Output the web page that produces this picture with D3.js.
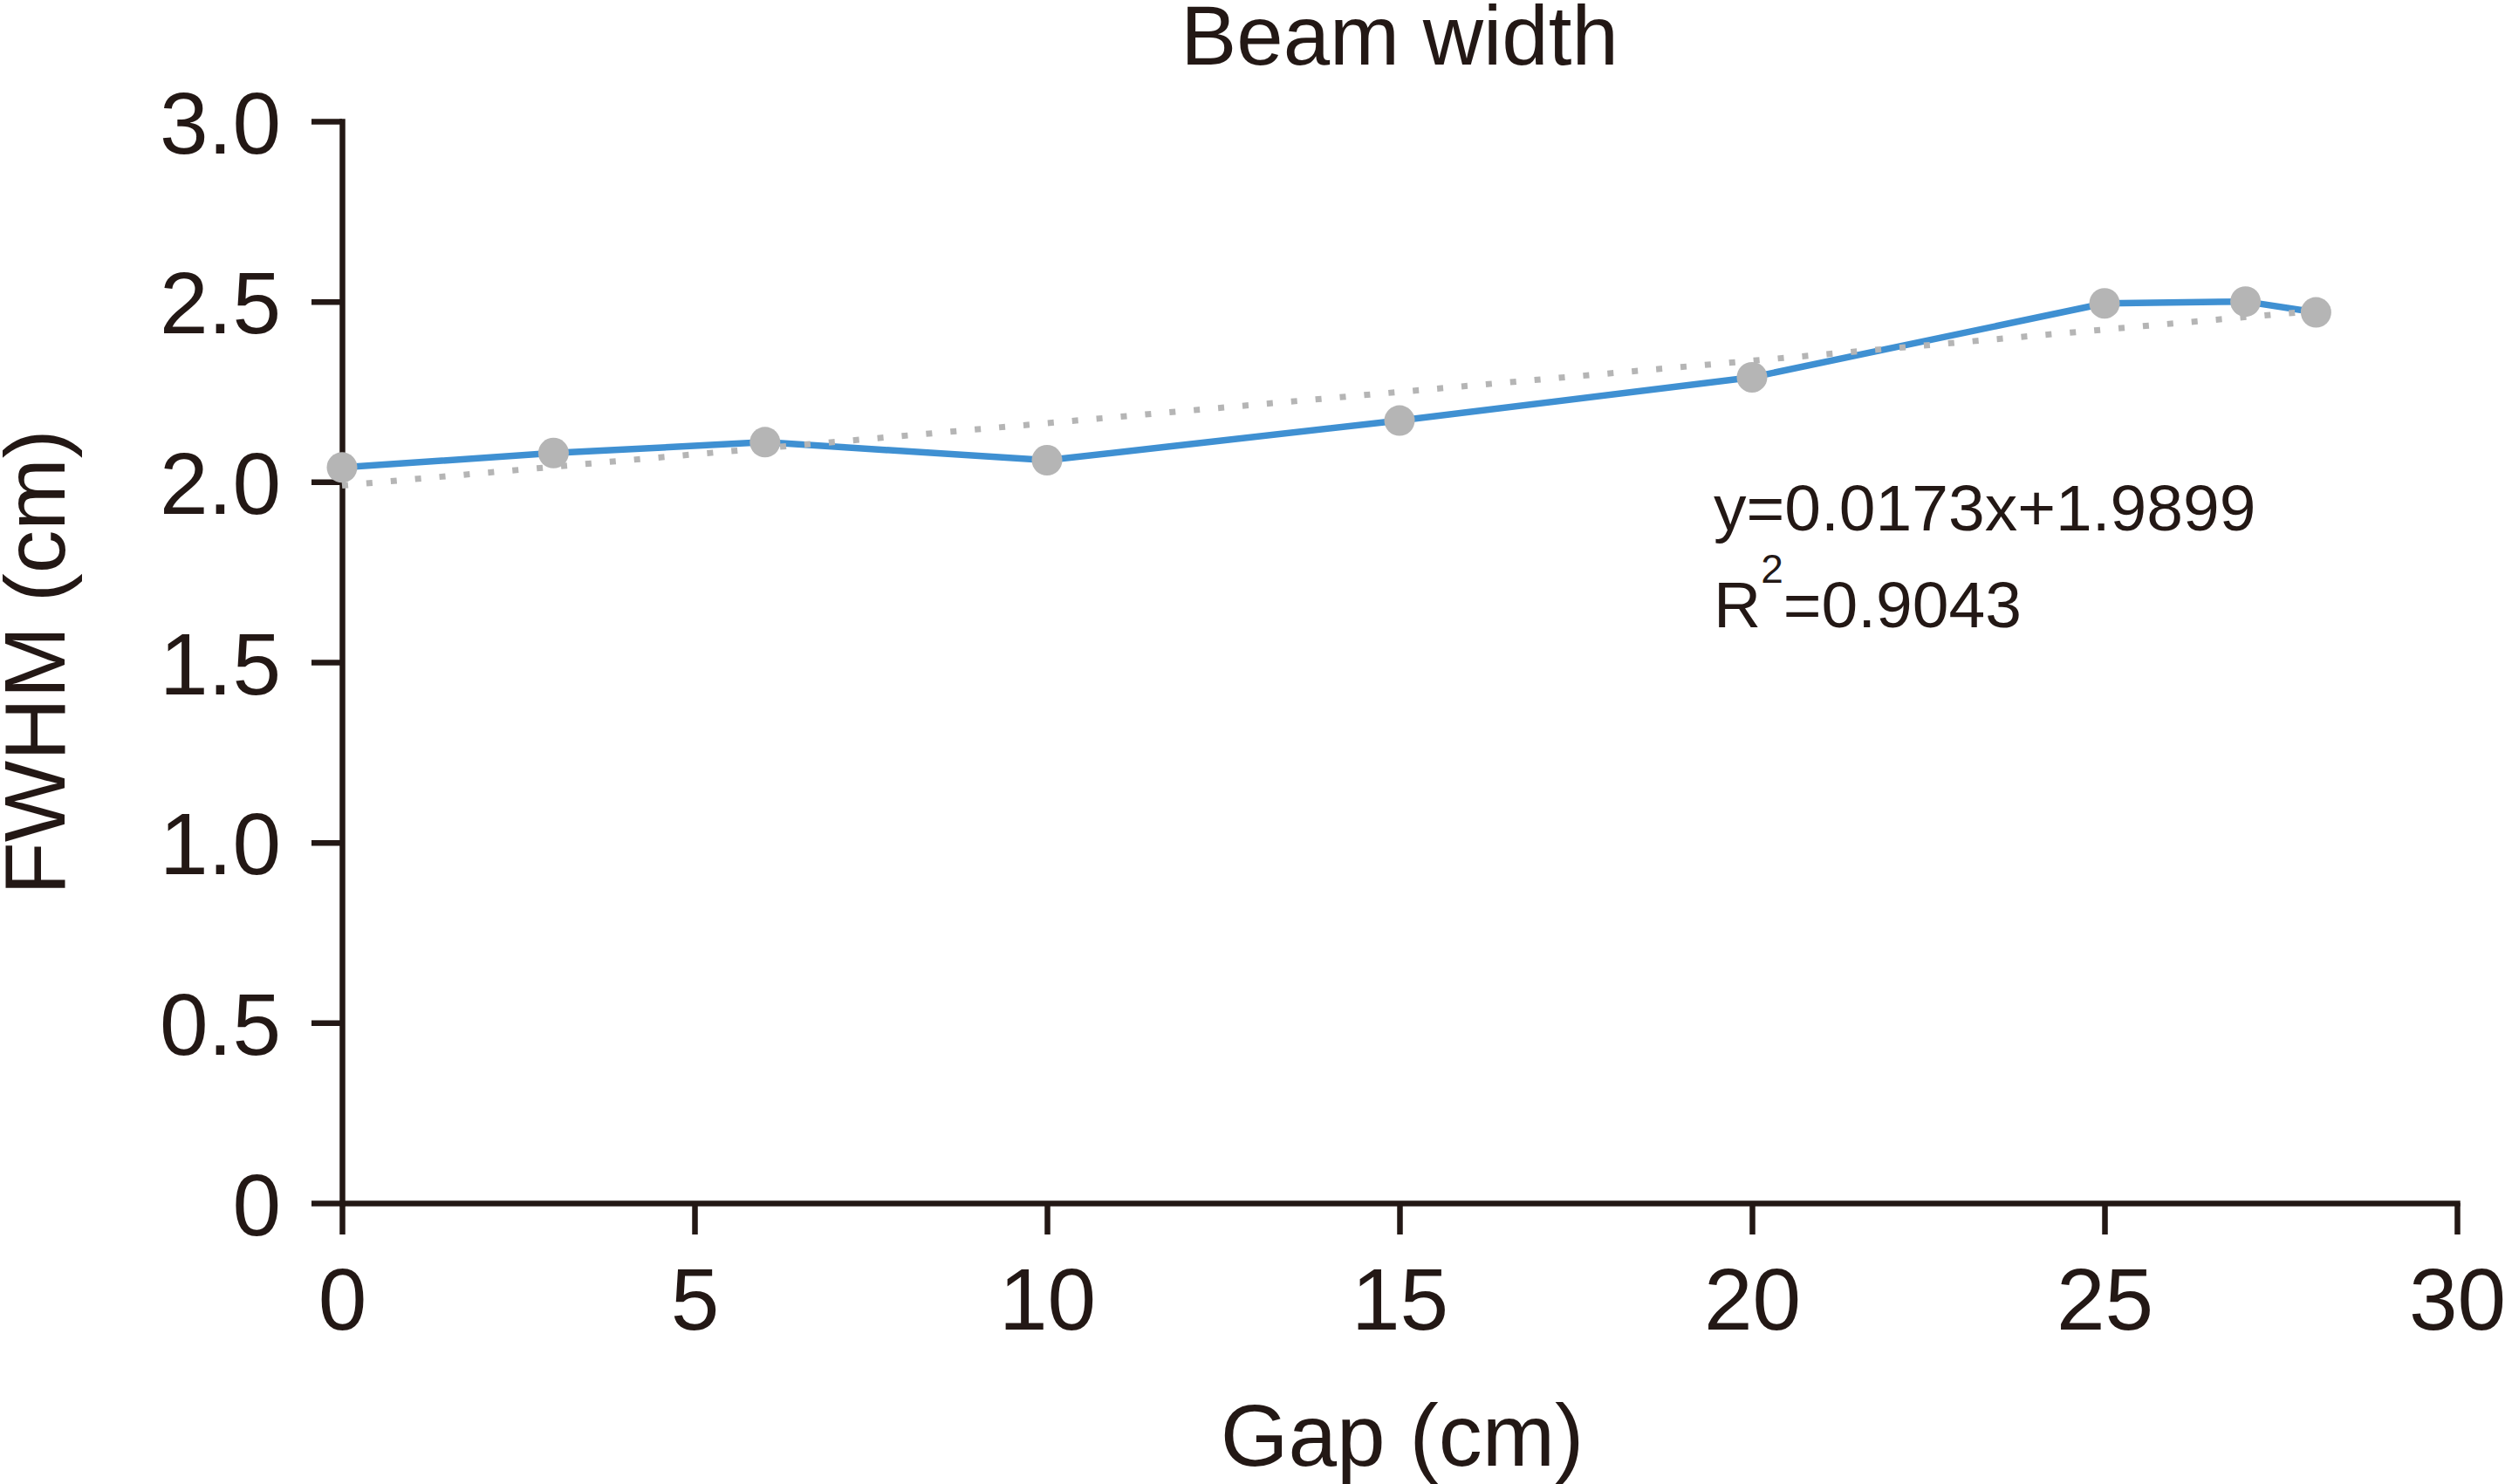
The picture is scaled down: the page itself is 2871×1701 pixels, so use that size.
<!DOCTYPE html>
<html>
<head>
<meta charset="utf-8">
<script src="https://cdn.jsdelivr.net/npm/d3@7"></script>
<style>
  html, body { margin: 0; padding: 0; background: #fff; }
  svg { display: block; }
  text { font-family: "Liberation Sans", Arial, Helvetica, sans-serif; fill: #231815; }
</style>
</head>
<body>
<script>
// ---- data ----
const gap = [0, 3, 6, 10, 15, 20, 25, 27, 28];
const fwhm = [2.04, 2.08, 2.11, 2.06, 2.17, 2.29, 2.495, 2.50, 2.47];
const xTicks = [0, 5, 10, 15, 20, 25, 30];
const yTicks = [0, 0.5, 1.0, 1.5, 2.0, 2.5, 3.0];
const yTickLabels = ["0", "0.5", "1.0", "1.5", "2.0", "2.5", "3.0"];
const fitSlope = 0.0173;
const fitIntercept = 1.9899;
const fitRange = [0, 28];
const titleText = "Beam width";
const xLabel = "Gap (cm)";
const yLabel = "FWHM (cm)";
const eqText = "y=0.0173x+1.9899";
const r2Text = "=0.9043";

// ---- layout ----
const W = 2871, H = 1701;
const ink = "#231815";
const x = d3.scaleLinear().domain([0, 30]).range([392, 2816]);
const y = d3.scaleLinear().domain([0, 3]).range([1379, 139]);

const svg = d3.select("body").append("svg").attr("width", W).attr("height", H);

// axes
const xAxis = d3.axisBottom(x).tickValues(xTicks).tickFormat(d3.format("d"))
  .tickSize(36).tickSizeOuter(0).tickPadding(38);
const yAxis = d3.axisLeft(y).tickValues(yTicks).tickFormat((d, i) => yTickLabels[i])
  .tickSize(35).tickSizeOuter(0).tickPadding(35);

const gx = svg.append("g").attr("transform", `translate(0,${y(0)})`).call(xAxis);
const gy = svg.append("g").attr("transform", `translate(${x(0)},0)`).call(yAxis);

[gx, gy].forEach(g => {
  g.selectAll("path.domain").attr("stroke", ink).attr("stroke-width", 6.5).attr("stroke-linecap", "square");
  g.selectAll(".tick line").attr("stroke", ink).attr("stroke-width", 6.5);
  g.selectAll(".tick text").attr("fill", ink).attr("font-size", 100)
    .attr("font-family", '"Liberation Sans", Arial, sans-serif');
});
gy.selectAll(".tick text").attr("dy", "0.36em");

// data line
const line = d3.line().x(d => x(d[0])).y(d => y(d[1]));
const pts = gap.map((g, i) => [g, fwhm[i]]);
svg.append("path").datum(pts).attr("d", line)
  .attr("fill", "none").attr("stroke", "#3f90d2").attr("stroke-width", 7.5)
  .attr("stroke-linejoin", "round");

// trend line (dotted)
const trend = fitRange.map(v => [v, fitSlope * v + fitIntercept]);
svg.append("path").datum(trend).attr("d", line)
  .attr("fill", "none").attr("stroke", "#b5b5b5").attr("stroke-width", 7)
  .attr("stroke-dasharray", "7,21");

// points
svg.append("g").selectAll("circle").data(pts).join("circle")
  .attr("cx", d => x(d[0])).attr("cy", d => y(d[1])).attr("r", 17.5)
  .attr("fill", "#b5b5b5");

// title
svg.append("text").attr("x", (x(0) + x(30)) / 2).attr("y", 74)
  .attr("text-anchor", "middle").attr("font-size", 96).text(titleText);

// x label
svg.append("text").attr("x", 1607).attr("y", 1680)
  .attr("text-anchor", "middle").attr("font-size", 100).text(xLabel);

// y label
svg.append("text").attr("transform", `translate(74,${(y(0) + y(3)) / 2}) rotate(-90)`)
  .attr("text-anchor", "middle").attr("font-size", 99).text(yLabel);

// equation annotation
svg.append("text").attr("x", 1964).attr("y", 608).attr("font-size", 75).text(eqText);
const r2 = svg.append("text").attr("x", 1964).attr("y", 719).attr("font-size", 75);
r2.append("tspan").text("R");
r2.append("tspan").attr("font-size", 46).attr("dy", -51).text("2");
r2.append("tspan").attr("font-size", 75).attr("dy", 51).text(r2Text);
</script>
</body>
</html>
